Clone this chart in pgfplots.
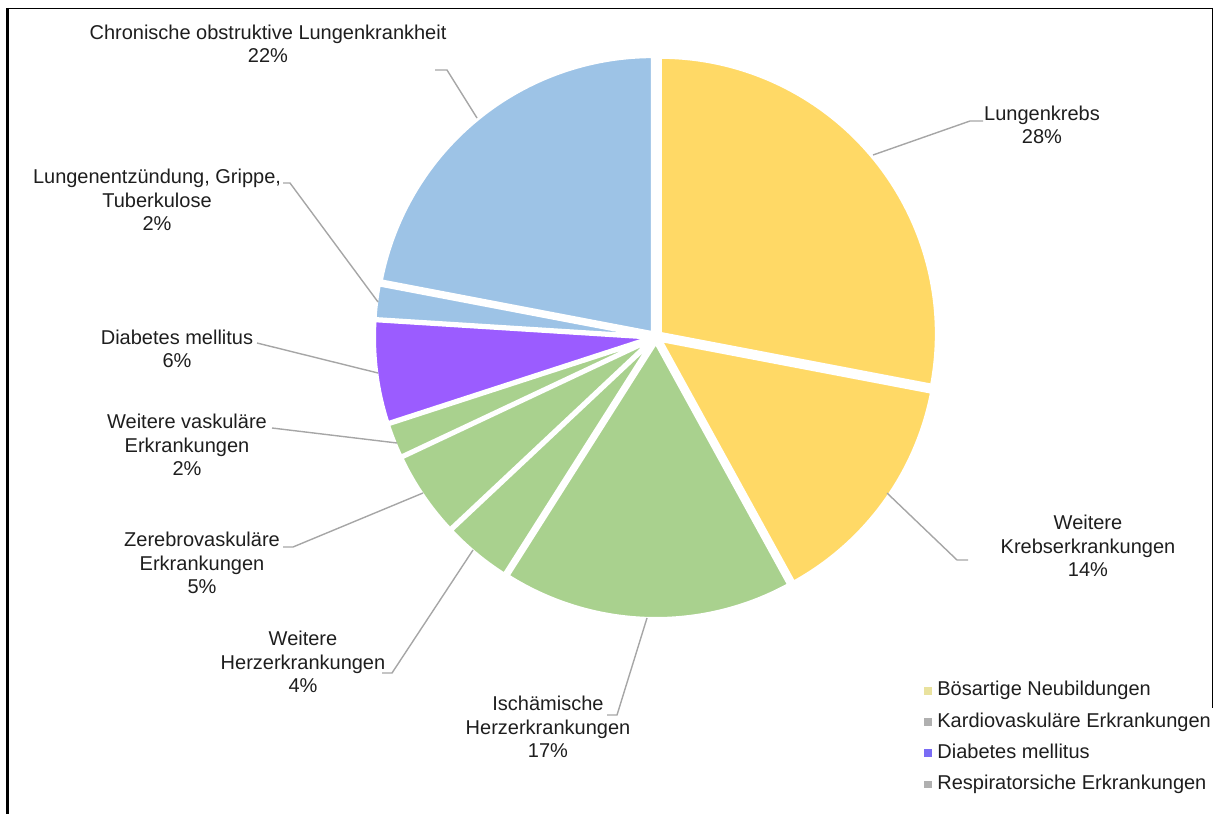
\documentclass[border=0pt]{standalone}
\usepackage{fontspec}
\setmainfont{Liberation Sans}
\usepackage{pgfplots}
\pgfplotsset{compat=1.18}
\definecolor{cY}{HTML}{FFD966}
\definecolor{cG}{HTML}{A9D18E}
\definecolor{cB}{HTML}{9DC3E6}
\definecolor{cP}{HTML}{9B5CFF}
\definecolor{lY}{HTML}{E9E29E}
\definecolor{lG}{HTML}{B0B0B0}
\definecolor{lP}{HTML}{7A6CF5}
\definecolor{lB}{HTML}{B0B0B0}
\definecolor{txt}{HTML}{1E1E1E}
\definecolor{lead}{HTML}{A6A6A6}
\pgfplotsset{dotlegend/.style={legend image code/.code={\draw[##1] plot coordinates {(0bp,0bp)}; \path (-1.7bp,0bp) (3.2bp,0bp);}}}
% #1 cumulative percent before slice, #2 percent of slice, #3 colour
\newcommand{\slice}[3]{%
  \pgfmathsetmacro\aS{-90+3.6*(#1)}%
  \pgfmathsetmacro\aE{-90+3.6*(#1+#2)}%
  \pgfmathsetmacro\aM{(\aS+\aE)/2}%
  \pgfmathsetmacro\ox{656+5*cos(\aM)}%
  \pgfmathsetmacro\oy{337+5*sin(\aM)}%
  \edef\doslice{\noexpand\addplot[forget plot, fill=#3, draw=white, line width=2bp, line join=round, domain=\aS:\aE, samples=90] ({\ox+277*cos(x)},{\oy+277*sin(x)}) -- (axis cs:\ox,\oy) -- cycle;}%
  \doslice
}
\begin{document}
\begin{tikzpicture}
\begin{axis}[
  width=608.5bp, height=407bp, scale only axis,
  xmin=0, xmax=1217, ymin=0, ymax=814, y dir=reverse,
  hide axis, clip=false,
  dotlegend,
  legend style={at={(axis cs:924,678)}, anchor=north west, draw=none, fill=none,
    inner sep=0pt, row sep=3.2bp, column sep=0bp,
    font=\fontsize{10bp}{12bp}\selectfont, text=txt,
    nodes={inner sep=1.2bp, text height=7.5bp, text depth=2.5bp}},
  legend cell align=left,
]
% slices: cumulative start, percent, colour
\slice{0}{28}{cY}   % Lungenkrebs
\slice{28}{14}{cY}  % Weitere Krebserkrankungen
\slice{42}{17}{cG}  % Ischaemische Herzerkrankungen
\slice{59}{4}{cG}   % Weitere Herzerkrankungen
\slice{63}{5}{cG}   % Zerebrovaskulaere Erkrankungen
\slice{68}{2}{cG}   % Weitere vaskulaere Erkrankungen
\slice{70}{6}{cP}   % Diabetes mellitus
\slice{76}{2}{cB}   % Lungenentzuendung
\slice{78}{22}{cB}  % COPD

\addlegendimage{only marks, mark=square*, mark size=1.7bp, color=lY}
\addlegendentry{Bösartige Neubildungen}
\addlegendimage{only marks, mark=square*, mark size=1.7bp, color=lG}
\addlegendentry{Kardiovaskuläre Erkrankungen}
\addlegendimage{only marks, mark=square*, mark size=1.7bp, color=lP}
\addlegendentry{Diabetes mellitus}
\addlegendimage{only marks, mark=square*, mark size=1.7bp, color=lB}
\addlegendentry{Respiratorsiche Erkrankungen}

% frame
\draw[line width=1.5bp] (7.5,8) -- (7.5,814);
\draw[line width=0.8bp] (6,8.5) -- (1212.5,8.5);
\draw[line width=0.8bp] (1212.5,8) -- (1212.5,708);

% leader lines
\begin{scope}[draw=lead, line width=0.7bp]
\draw (435,70) -- (447,70) -- (477,118);
\draw (873,155) -- (970,121) -- (983,121);
\draw (283,183) -- (290,183) -- (378,302);
\draw (257,343) -- (378,373);
\draw (272,428) -- (397,443);
\draw (283,547) -- (293,547) -- (423,493);
\draw (382,673) -- (392,673) -- (473,550);
\draw (607,715) -- (617,715) -- (647,618);
\draw (887,493) -- (957,560) -- (968,560);
\end{scope}

% labels
\begin{scope}[every node/.style={font=\fontsize{10bp}{11.7bp}\selectfont, text=txt, align=center, inner sep=0pt}]
\node at (268,44) {Chronische obstruktive Lungenkrankheit\\22\%};
\node at (1042,125) {Lungenkrebs\\28\%};
\node at (157,200) {Lungenentzündung, Grippe,\\Tuberkulose\\2\%};
\node at (177,349) {Diabetes mellitus\\6\%};
\node at (187,445) {Weitere vaskuläre\\Erkrankungen\\2\%};
\node at (202,563) {Zerebrovaskuläre\\Erkrankungen\\5\%};
\node at (303,662) {Weitere\\Herzerkrankungen\\4\%};
\node at (548,727) {Ischämische\\Herzerkrankungen\\17\%};
\node at (1088,546) {Weitere\\Krebserkrankungen\\14\%};
\end{scope}
\end{axis}
\pgfresetboundingbox
\path (current axis.south west) rectangle (current axis.north east);
\end{tikzpicture}
\end{document}
